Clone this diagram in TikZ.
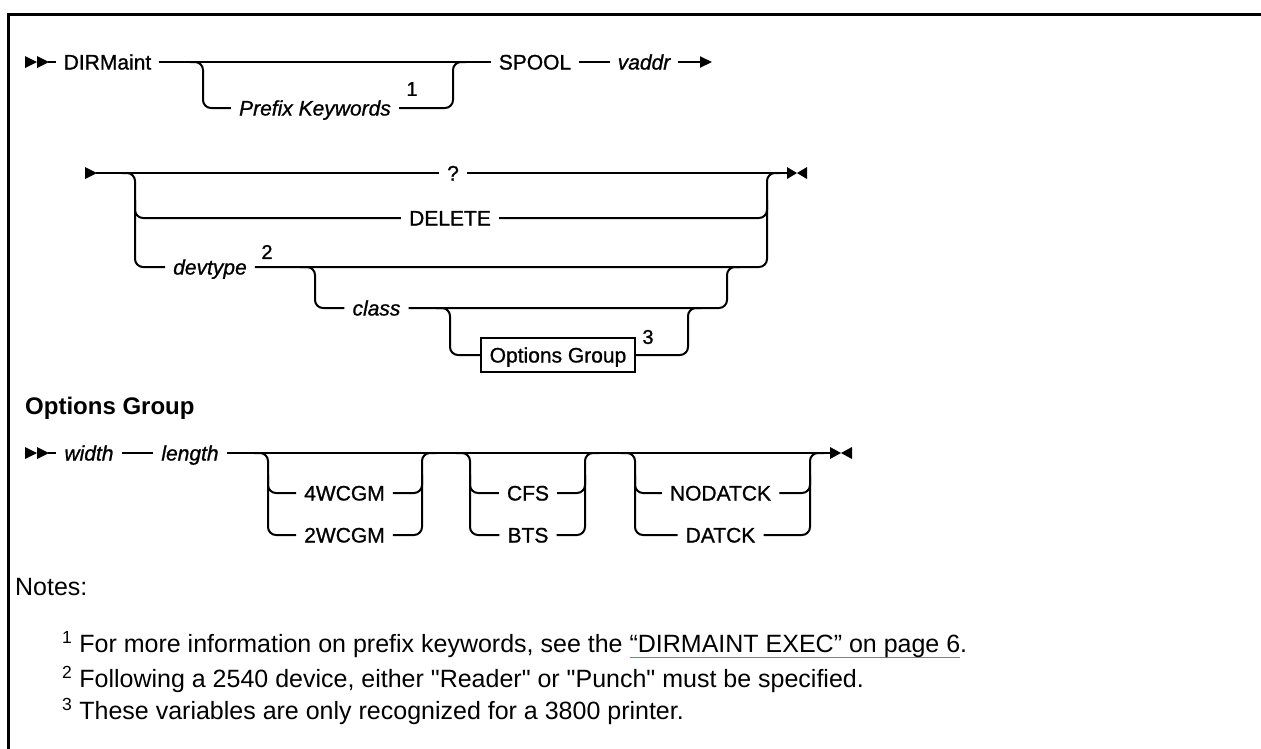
\documentclass[tikz,border=0pt]{standalone}
\usepackage{fontspec}
\setmainfont{Liberation Sans}[Ligatures=TeXOff]
\usetikzlibrary{arrows.meta}
\definecolor{linkblue}{HTML}{5B82D0}
\newcommand\lnkline[1]{\setbox0=\hbox{#1}\rlap{\textcolor{linkblue}{\rule[-5pt]{\wd0}{1.2pt}}}\box0}
\newcommand\lblfont{\fontsize{21}{25}\selectfont\addfontfeature{FakeBold=1}}
\begin{document}
\begin{tikzpicture}[x=1pt,y=-1pt,
  lbl/.style={inner xsep=8pt, inner ysep=0pt, text height=15pt, text depth=0pt, font=\lblfont},
  var/.style={lbl, font=\lblfont\itshape},
  supnum/.style={inner sep=0pt, font=\fontsize{20}{24}\selectfont\addfontfeature{FakeBold=1}},
  gbox/.style={draw, line width=1.6pt, inner xsep=9pt, inner ysep=0pt, minimum height=34pt, text height=15pt, text depth=0pt, font=\lblfont},
  rail/.style={line width=2pt, rounded corners=8pt},
  endtip/.style={line width=2pt, -{Triangle[length=12pt,width=11pt]}},
  notetxt/.style={anchor=west, inner sep=0pt, font=\fontsize{25}{30}\selectfont},
  head/.style={anchor=west, inner sep=0pt, font=\fontsize{24}{28}\selectfont\bfseries}]
\useasboundingbox (0,0) rectangle (1261,748);
% frame
\draw[line width=3pt] (8,750) -- (8,14) -- (1263,14);

% ---------- row 1 ----------
\fill (25,56) -- (37,62) -- (25,68) -- cycle;
\fill (37,56) -- (49,62) -- (37,68) -- cycle;
\coordinate (s1) at (48,62);
\node[lbl] (dirm) at (107.5,62) {DIRMaint};
\node[var] (pk) at (315,108) {Prefix Keywords};
\node[supnum] (sup1) at (412,89) {1};
\node[lbl] (spool) at (535,62) {SPOOL};
\node[var] (vaddr) at (644,62) {vaddr};
\coordinate (e1) at (712,62);
\draw[line width=2pt] (s1) -- (dirm.west);
\draw[line width=2pt] (dirm.east) -- (spool.west);
\draw[rail] (190,62) -- (203,62) -- (203,108) -- (pk.west);
\draw[rail] (pk.east) -- (453,108) -- (453,62) -- (466,62);
\draw[line width=2pt] (spool.east) -- (vaddr.west);
\draw[endtip] (vaddr.east) -- (e1);

% ---------- row 2 ----------
\fill (85,167) -- (97,173) -- (85,179) -- cycle;
\coordinate (s2) at (96,173);
\node[lbl] (q) at (453,173) {?};
\node[lbl] (del) at (450,218) {DELETE};
\node[var] (dev) at (210,267) {devtype};
\node[supnum] (sup2) at (267,252) {2};
\node[var] (cls) at (376.5,308) {class};
\node[gbox] (og) at (558,355) {Options Group};
\node[supnum] (sup3) at (648,337) {3};
\coordinate (e2) at (787,173);
\draw[line width=2pt] (s2) -- (q.west);
\draw[line width=2pt] (q.east) -- (e2);
\draw[rail] (122,173) -- (135,173) -- (135,267) -- (dev.west);
\draw[rail] (135,200) -- (135,218) -- (del.west);
\draw[rail] (del.east) -- (767,218) -- (767,200);
\draw[rail] (dev.east) -- (767,267) -- (767,173) -- (780,173);
\draw[rail] (300,267) -- (315,267) -- (315,308) -- (cls.west);
\draw[rail] (cls.east) -- (727,308) -- (727,267) -- (740,267);
\draw[rail] (436,308) -- (450,308) -- (450,355) -- (og.west);
\draw[rail] (og.east) -- (688,355) -- (688,308) -- (701,308);
\fill (787,167) -- (797,173) -- (787,179) -- cycle;
\fill (807,167) -- (797,173) -- (807,179) -- cycle;

% ---------- options group ----------
\node[head] (hd) at (25,408) {Options Group};
\fill (25,447) -- (37,453) -- (25,459) -- cycle;
\fill (37,447) -- (49,453) -- (37,459) -- cycle;
\coordinate (s3) at (48,453);
\node[var] (wid) at (89,453) {width};
\node[var] (len) at (190,453) {length};
\coordinate (e3) at (830,453);
\draw[line width=2pt] (s3) -- (wid.west);
\draw[line width=2pt] (wid.east) -- (len.west);
\draw[line width=2pt] (len.east) -- (e3);
% group 1
\node[lbl] (g4) at (344.5,493) {4WCGM};
\node[lbl] (g2) at (344.5,535) {2WCGM};
\draw[rail] (254,453) -- (268,453) -- (268,535) -- (g2.west);
\draw[rail] (268,475) -- (268,493) -- (g4.west);
\draw[rail] (g2.east) -- (422,535) -- (422,453) -- (436,453);
\draw[rail] (g4.east) -- (422,493) -- (422,475);
% group 2
\node[lbl] (cfs) at (528,493) {CFS};
\node[lbl] (bts) at (528,535) {BTS};
\draw[rail] (456,453) -- (470,453) -- (470,535) -- (bts.west);
\draw[rail] (470,475) -- (470,493) -- (cfs.west);
\draw[rail] (bts.east) -- (585,535) -- (585,453) -- (599,453);
\draw[rail] (cfs.east) -- (585,493) -- (585,475);
% group 3
\node[lbl] (nod) at (720.5,493) {NODATCK};
\node[lbl] (dat) at (720.5,535) {DATCK};
\draw[rail] (621,453) -- (635,453) -- (635,535) -- (dat.west);
\draw[rail] (635,475) -- (635,493) -- (nod.west);
\draw[rail] (dat.east) -- (810,535) -- (810,453) -- (824,453);
\draw[rail] (nod.east) -- (810,493) -- (810,475);
\fill (830,447) -- (841,453) -- (830,459) -- cycle;
\fill (852,447) -- (841,453) -- (852,459) -- cycle;

% ---------- notes ----------
\node[notetxt] (notes) at (15,587) {Notes:};
\node[notetxt] (n1) at (62,645) {\textsuperscript{1} For more information on prefix keywords, see the \lnkline{“DIRMAINT EXEC” on page 6}.};
\node[notetxt] (n2) at (62,679) {\textsuperscript{2} Following a 2540 device, either "Reader" or "Punch" must be specified.};
\node[notetxt] (n3) at (62,711) {\textsuperscript{3} These variables are only recognized for a 3800 printer.};
\end{tikzpicture}
\end{document}
